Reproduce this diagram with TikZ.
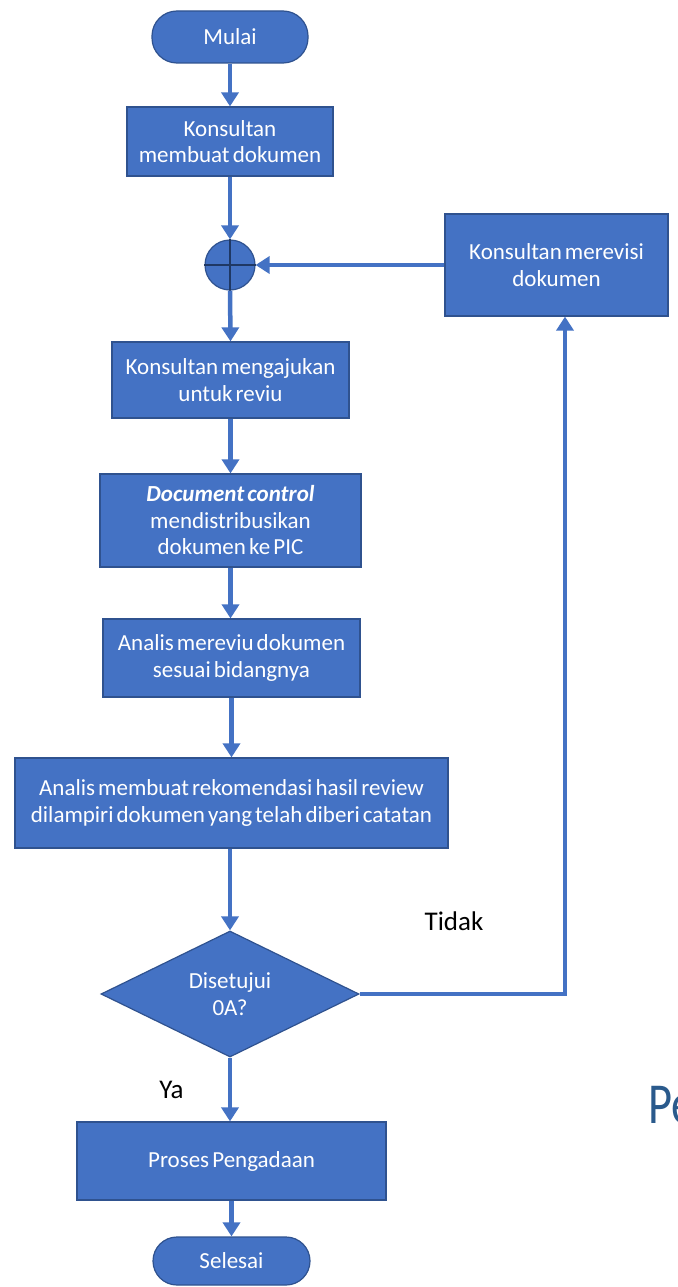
\documentclass[tikz,border=0pt]{standalone}
\usepackage{fontspec}
\setmainfont{Carlito}[WordSpace=0.6]
\newfontfamily\pefont{Carlito}[FakeStretch=0.8]
\usetikzlibrary{shapes.geometric,arrows.meta,calc}
\definecolor{boxblue}{HTML}{4472C4}
\definecolor{edgeblue}{HTML}{2F528F}
\definecolor{navy}{HTML}{1F3864}
\definecolor{peblue}{HTML}{2A5A8C}
\begin{document}
\begin{tikzpicture}[x=1pt,y=-1pt,
  proc/.style={rectangle,draw=edgeblue,line width=1.2pt,fill=boxblue,text=white,
    align=center,inner sep=0pt,font=\fontsize{23}{26.5}\selectfont},
  term/.style={proc,rounded corners=25pt},
  flow/.style={draw=boxblue,line width=4.5pt,-{Triangle[width=17pt,length=14pt]}},
  lbl/.style={text=black,font=\fontsize{27}{30}\selectfont,inner sep=0pt}]
\useasboundingbox[fill=white] (0,0) rectangle (677,1287);

\node[term,minimum width=156pt,minimum height=52pt] (mulai) at (230,37) {Mulai};
\node[proc,minimum width=206pt,minimum height=69pt] (b1) at (230,141.5) {Konsultan\\membuat dokumen};
\node[circle,draw=edgeblue,line width=1.2pt,fill=boxblue,minimum size=50pt,inner sep=0pt] (circ) at (230,265) {};
\draw[navy,line width=1.3pt] (circ.north) -- (circ.south) (circ.west) -- (circ.east);
\node[proc,minimum width=237pt,minimum height=76pt] (b3) at (230.5,380) {Konsultan mengajukan\\untuk reviu};
\node[proc,minimum width=261pt,minimum height=93pt] (b4) at (230.5,520.5) {\textbf{\textit{Document control}}\\mendistribusikan\\dokumen ke PIC};
\node[proc,minimum width=257pt,minimum height=78pt] (b5) at (231.5,658) {Analis mereviu dokumen\\sesuai bidangnya};
\node[proc,minimum width=433pt,minimum height=90pt] (b6) at (231.5,803) {Analis membuat rekomendasi hasil review\\dilampiri dokumen yang telah diberi catatan};
\node[proc,diamond,aspect=2.05,minimum width=258pt,minimum height=126pt] (dia) at (230,994) {Disetujui\\0A?};
\node[proc,minimum width=309pt,minimum height=78pt] (b7) at (231.5,1161) {Proses Pengadaan};
\node[term,minimum width=157pt,minimum height=48pt,rounded corners=24pt] (selesai) at (231.5,1261) {Selesai};
\node[proc,minimum width=223pt,minimum height=102pt] (rev) at (556.5,265) {Konsultan merevisi\\dokumen};

\node[lbl] (tidak) at (454,921) {Tidak};
\node[lbl] (ya) at (171.5,1090) {Ya};
\node[anchor=base west,inner sep=0pt,text=peblue,font=\pefont\fontsize{58}{60}\selectfont] (pe) at (648,1123) {Pe};

\coordinate (corner) at (565,994);

\draw[flow] (mulai.south) -- (b1.north);
\draw[flow] (b1.south) -- (circ.north);
\draw[flow] (circ.south) -- (b3.north);
\draw[flow] (b3.south) -- (b4.north -| b3.south);
\draw[flow] (b4.south) -- (b5.north -| b4.south);
\draw[flow] (b5.south) -- (b6.north -| b5.south);
\draw[flow] (b6.south -| dia.north) -- (dia.north);
\draw[flow] (dia.south) -- (b7.north -| dia.south);
\draw[flow] (b7.south) -- (selesai.north);
\draw[flow] (rev.west) -- (circ.east);
\draw[flow] (dia.east) -- (corner) -- (corner |- rev.south);
\end{tikzpicture}
\end{document}
